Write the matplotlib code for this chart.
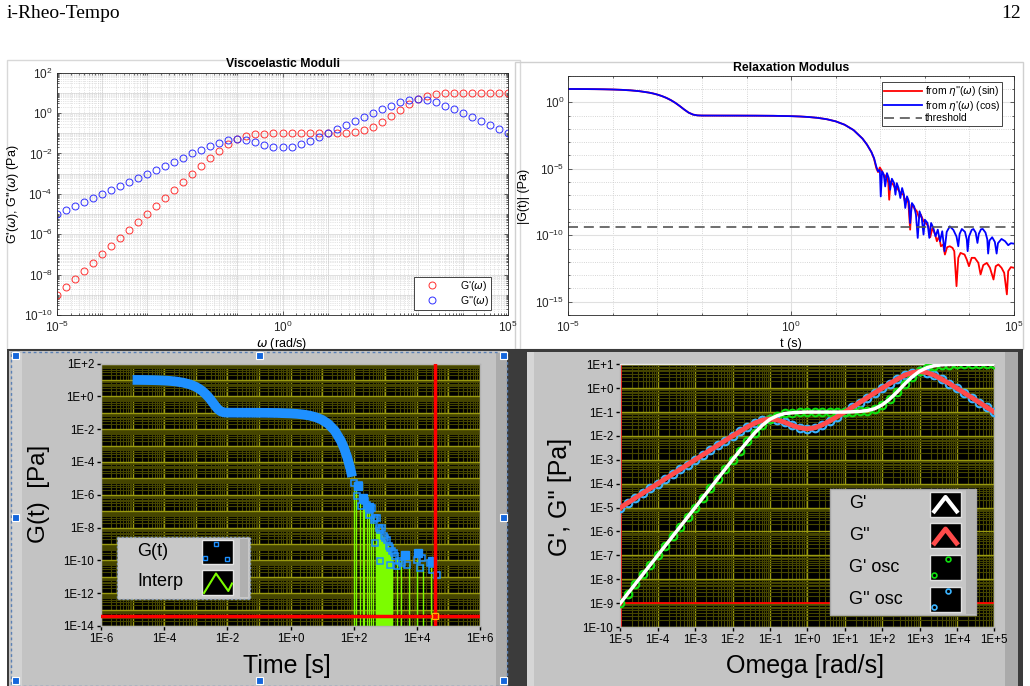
import matplotlib

matplotlib.use("Agg")
import matplotlib.pyplot as plt
import numpy as np
from matplotlib.patches import Rectangle
from matplotlib.ticker import FuncFormatter, LogLocator, NullFormatter, NullLocator

W, H = 1030, 686

# ---- data, all in log10 units ----
LOG_OMEGA = [-5.0, -4.8, -4.6, -4.4, -4.2, -4.0, -3.8, -3.6, -3.4, -3.2,
             -3.0, -2.8, -2.6, -2.4, -2.2, -2.0, -1.8, -1.6, -1.4, -1.2,
             -1.0, -0.8, -0.6, -0.4, -0.2, 0.0, 0.2, 0.4, 0.6, 0.8,
             1.0, 1.2, 1.4, 1.6, 1.8, 2.0, 2.2, 2.4, 2.6, 2.8,
             3.0, 3.2, 3.4, 3.6, 3.8, 4.0, 4.2, 4.4, 4.6, 4.8, 5.0]
LOG_GP = [-9.00, -8.60, -8.20, -7.80, -7.40, -7.00, -6.60, -6.20, -5.80, -5.40,
          -5.00, -4.60, -4.20, -3.80, -3.40, -3.00, -2.61, -2.23, -1.86, -1.55,
          -1.30, -1.15, -1.06, -1.03, -1.01, -1.00, -1.00, -1.00, -1.00, -1.00,
          -1.00, -0.99, -0.97, -0.94, -0.86, -0.70, -0.46, -0.16, 0.17, 0.47,
          0.71, 0.86, 0.94, 0.98, 0.99, 1.00, 1.00, 1.00, 1.00, 1.00, 1.00]
LOG_GPP = [-5.00, -4.80, -4.60, -4.40, -4.20, -4.00, -3.80, -3.60, -3.40, -3.20,
           -3.00, -2.80, -2.60, -2.40, -2.20, -2.00, -1.81, -1.62, -1.46, -1.34,
           -1.29, -1.33, -1.43, -1.56, -1.66, -1.70, -1.66, -1.54, -1.37, -1.19,
           -1.00, -0.80, -0.60, -0.40, -0.20, 0.00, 0.19, 0.37, 0.54, 0.65,
           0.70, 0.65, 0.54, 0.37, 0.19, 0.00, -0.20, -0.40, -0.60, -0.80, -1.00]

# smooth part of G(t)
LOG_T = [-5.0, -4.8, -4.6, -4.4, -4.2, -4.0, -3.8, -3.6, -3.4, -3.2,
         -3.1, -3.0, -2.9, -2.8, -2.7, -2.6, -2.5, -2.4, -2.3, -2.2, -2.1, -2.0,
         -1.6, -1.2, -0.8, -0.4, 0.0, 0.2, 0.4, 0.6, 0.8, 1.0, 1.2, 1.4, 1.6, 1.7, 1.8]
LOG_GT = [1.000, 0.998, 0.993, 0.987, 0.977, 0.961, 0.936, 0.897, 0.833, 0.734,
          0.665, 0.578, 0.468, 0.332, 0.164, -0.040, -0.281, -0.542, -0.778, -0.927, -0.985, -0.998,
          -1.001, -1.003, -1.007, -1.017, -1.043, -1.069, -1.109, -1.173, -1.274, -1.434, -1.688,
          -2.090, -2.729, -3.176, -3.740]

# noisy tails of the two inversions
SIN_T = [1.86, 1.91, 1.95, 1.99, 2.05, 2.10, 2.14, 2.18, 2.20, 2.23, 2.29, 2.33, 2.37, 2.40, 2.46,
         2.52, 2.55, 2.59, 2.63, 2.67, 2.70, 2.76, 2.82, 2.87, 2.91, 2.97, 3.02, 3.08, 3.12, 3.17,
         3.23, 3.27, 3.32, 3.36, 3.41, 3.45, 3.50, 3.56, 3.62, 3.66, 3.71, 3.75, 3.80, 3.89, 3.94,
         3.99, 4.05, 4.12, 4.20, 4.25, 4.31, 4.39, 4.46, 4.54, 4.59, 4.65, 4.72, 4.78, 4.84, 4.87,
         4.93, 5.00]
SIN_G = [-4.25, -4.95, -5.25, -4.90, -5.25, -5.70, -5.45, -6.08, -7.33, -5.95, -6.20, -6.45, -6.33,
         -6.58, -6.83, -6.95, -7.45, -7.20, -7.58, -9.58, -7.70, -7.95, -8.20, -8.70, -8.45, -8.95,
         -9.08, -9.33, -10.15, -9.45, -9.95, -10.45, -10.08, -10.83, -10.70, -11.45, -10.90, -10.83,
         -10.95, -11.20, -13.83, -11.70, -11.33, -11.45, -11.83, -12.33, -11.70, -11.70, -12.08,
         -12.95, -12.25, -12.08, -12.45, -13.33, -12.33, -12.20, -12.45, -12.83, -14.45, -12.70,
         -12.40, -12.45]
COS_T = [1.86, 1.91, 1.95, 1.99, 2.01, 2.04, 2.08, 2.11, 2.15, 2.19, 2.22, 2.26, 2.31, 2.34, 2.37,
         2.41, 2.45, 2.49, 2.53, 2.56, 2.60, 2.64, 2.67, 2.71, 2.76, 2.80, 2.84, 2.88, 2.93, 2.97,
         3.00, 3.06, 3.10, 3.14, 3.19, 3.24, 3.29, 3.34, 3.39, 3.44, 3.49, 3.56, 3.64, 3.71, 3.75,
         3.78, 3.83, 3.90, 3.94, 3.96, 3.99, 4.05, 4.09, 4.14, 4.18, 4.21, 4.26, 4.30, 4.36, 4.40,
         4.42, 4.45, 4.51, 4.57, 4.61, 4.64, 4.72, 4.80, 4.87, 4.93, 4.99]
COS_G = [-4.20, -4.83, -5.20, -5.08, -7.08, -5.20, -5.45, -6.33, -5.33, -5.70, -6.58, -5.75, -6.08,
         -6.95, -6.08, -6.45, -7.20, -6.45, -6.95, -7.95, -7.08, -7.45, -9.08, -7.58, -7.83, -8.45,
         -10.20, -8.20, -8.70, -9.95, -8.83, -9.08, -10.20, -9.08, -9.45, -10.08, -9.58, -10.45,
         -9.70, -11.20, -9.75, -9.33, -9.60, -10.10, -10.83, -9.90, -9.53, -9.75, -10.30, -11.20,
         -10.10, -9.60, -9.53, -9.80, -10.58, -9.90, -9.55, -9.53, -9.80, -10.30, -11.38, -10.40,
         -10.15, -10.50, -11.38, -10.60, -10.28, -10.45, -10.75, -10.60, -10.63]
LOG_THRESHOLD = -9.4

# LabVIEW G(t) panel
BL_EXTRA_T = [1.9, 1.95]
BL_EXTRA_G = [-4.45, -4.90]
SQ_T = [1.995, 2.154, 2.101, 2.228, 2.312, 2.365, 2.418, 2.471, 2.523, 2.576, 2.629, 2.682, 2.735,
        2.787, 2.840, 2.893, 2.946, 2.999, 3.052, 3.104, 3.157, 3.210, 3.263, 3.316, 3.368, 3.421,
        2.682, 2.819, 3.157, 3.527, 3.685, 4.002, 4.108, 4.160, 4.425, 4.477, 4.636]
SQ_G = [-5.28, -5.38, -6.09, -6.70, -6.19, -6.40, -6.60, -7.21, -6.91, -6.80, -7.52, -7.42, -7.42,
        -8.03, -8.13, -8.03, -8.54, -8.64, -8.74, -9.15, -9.25, -9.45, -9.55, -9.76, -10.37, -10.06,
        -8.94, -10.06, -10.27, -10.17, -10.27, -9.96, -10.47, -9.86, -10.17, -10.57, -10.88]
BLOB_T = [2.15, 2.31, 2.50, 3.63, 4.05, 4.48]
BLOB_G = [-5.45, -6.20, -6.75, -9.66, -9.55, -10.06]
INTERP_T = [2.00, 2.08, 2.21, 2.29, 2.34, 2.42, 2.50, 2.55, 2.61, 3.37, 3.51, 3.74, 4.02, 4.18, 4.45]
INTERP_G = [-5.3, -5.6, -6.1, -6.3, -6.4, -6.7, -7.0, -7.1, -7.3, -9.8, -10.0, -10.2, -10.0, -10.2, -10.4]
FILL_T = [2.68, 2.80, 2.95, 3.10, 3.24]
FILL_G = [-7.9, -8.2, -8.6, -9.1, -9.8]
CURSOR_T, CURSOR_G = 4.59, -13.38
OSC_FLOOR = -9.0

plt.rcParams["font.family"] = ["Liberation Sans", "DejaVu Sans"]
fig = plt.figure(figsize=(W / 100, H / 100), dpi=100)


def px_axes(x0, y0, x1, y1, **kw):
    return fig.add_axes([x0 / W, 1 - y1 / H, (x1 - x0) / W, (y1 - y0) / H], **kw)


def p10(v):
    return 10.0 ** np.asarray(v, dtype=float)


bg = px_axes(0, 0, W, H, zorder=-5)
bg.set_xlim(0, W)
bg.set_ylim(H, 0)
bg.axis("off")

bg.text(7, 14, "i-Rheo-Tempo", family="Liberation Serif", fontsize=14, va="center")
bg.text(1021, 14, "12", family="Liberation Serif", fontsize=14, va="center", ha="right")
bg.add_patch(Rectangle((7, 60), 513, 289, fill=False, ec="#d8d8d8", lw=1))
bg.add_patch(Rectangle((515, 62), 508, 287, fill=False, ec="#d0d0d0", lw=1))

# dark backdrop and the two grey LabVIEW panels
bg.add_patch(Rectangle((7, 349), 1016, 337, fc="#3b3b3b", ec="none"))
bg.add_patch(Rectangle((9, 351), 498, 335, fc="#c3c3c3", ec="none"))
bg.add_patch(Rectangle((12, 353), 10, 333, fc="#d2d2d2", ec="none"))
bg.add_patch(Rectangle((496, 353), 11, 333, fc="#ababab", ec="none"))
bg.add_patch(Rectangle((527, 352), 491, 334, fc="#c4c4c4", ec="none"))
bg.add_patch(Rectangle((527, 352), 7, 334, fc="#d6d6d6", ec="none"))
bg.add_patch(Rectangle((1005, 352), 13, 334, fc="#aaaaaa", ec="none"))


def matlab_axes(ax):
    ax.set_xscale("log")
    ax.set_yscale("log")
    ax.tick_params(which="both", direction="in", top=True, right=True, width=0.5,
                   labelsize=8.5, pad=3, colors="#262626")
    ax.tick_params(axis="x", which="both", pad=3.5)
    ax.tick_params(which="major", length=3)
    ax.tick_params(which="minor", length=1.5)
    for s in ax.spines.values():
        s.set_linewidth(0.6)
        s.set_color("#262626")


# ---- top left: viscoelastic moduli ----
ax1 = px_axes(57, 72.7, 508, 315)
matlab_axes(ax1)
w = p10(LOG_OMEGA)
ax1.plot(w, p10(LOG_GP), "o", mfc="none", mec="#ff3030", ms=5, mew=0.7, label="G'($\\omega$)")
ax1.plot(w, p10(LOG_GPP), "o", mfc="none", mec="#3030ff", ms=5, mew=0.7, label="G''($\\omega$)")
ax1.set_xlim(1e-5, 1e5)
ax1.set_ylim(1e-10, 1e2)
ax1.set_xticks([1e-5, 1, 1e5])
ax1.set_yticks([10.0 ** k for k in range(-10, 3, 2)])
ax1.xaxis.set_minor_locator(LogLocator(base=10, subs=np.arange(1, 10), numticks=200))
ax1.yaxis.set_minor_locator(LogLocator(base=10, subs=np.arange(1, 10), numticks=200))
ax1.xaxis.set_minor_formatter(NullFormatter())
ax1.yaxis.set_minor_formatter(NullFormatter())
ax1.grid(which="minor", color="#cccccc", lw=0.5, ls=":")
ax1.grid(which="major", color="#e0e0e0", lw=0.6)
for k in range(-5, 6):
    ax1.axvline(10.0 ** k, color="#e0e0e0", lw=0.6, zorder=0.5)
for k in range(-10, 3):
    ax1.axhline(10.0 ** k, color="#e0e0e0", lw=0.6, zorder=0.5)
ax1.set_axisbelow(True)
leg = ax1.legend(loc="lower right", bbox_to_anchor=(491 / W, 1 - 310 / H),
                 bbox_transform=fig.transFigure, borderaxespad=0, fontsize=7.5,
                 fancybox=False, framealpha=1, edgecolor="#262626", labelspacing=0.1,
                 borderpad=0.2, handlelength=3.0, handletextpad=1.2)
leg.get_frame().set_linewidth(0.6)
bg.text(282.5, 64, "Viscoelastic Moduli", fontsize=8.8, weight="bold", ha="center", va="center")
bg.text(282, 343.5, "$\\omega$ (rad/s)", fontsize=9, ha="center", va="center")
bg.text(13, 194, "G'($\\omega$), G''($\\omega$) (Pa)", fontsize=9, ha="center", va="center",
        rotation=90)

# ---- top right: relaxation modulus ----
ax2 = px_axes(568.3, 75.7, 1014, 315)
matlab_axes(ax2)
t_sin = p10(LOG_T + SIN_T)
g_sin = p10(LOG_GT + SIN_G)
t_cos = p10(LOG_T + COS_T)
g_cos = p10(LOG_GT + COS_G)
ax2.plot(t_sin, g_sin, color="#ff0000", lw=1.3, label="from $\\eta$''($\\omega$) (sin)")
ax2.plot(t_cos, g_cos, color="#0000ff", lw=1.3, label="from $\\eta$'($\\omega$) (cos)")
ax2.axhline(10.0 ** LOG_THRESHOLD, color="#555555", lw=1.2, ls=(0, (6, 3.5)), label="threshold")
ax2.set_xlim(1e-5, 1e5)
ax2.set_ylim(1e-16, 1e2)
ax2.set_xticks([1e-5, 1, 1e5])
ax2.set_yticks([1e-15, 1e-10, 1e-5, 1])
ax2.xaxis.set_minor_locator(LogLocator(base=10, subs=(1.0,), numticks=200))
ax2.yaxis.set_minor_locator(LogLocator(base=10, subs=(1.0,), numticks=200))
ax2.xaxis.set_minor_formatter(NullFormatter())
ax2.yaxis.set_minor_formatter(NullFormatter())
ax2.grid(which="minor", color="#c8c8c8", lw=0.6, ls=":")
ax2.grid(which="major", color="#e0e0e0", lw=0.8)
ax2.set_axisbelow(True)
leg = ax2.legend(loc="upper right", bbox_to_anchor=(1002 / W, 1 - 82.3 / H),
                 bbox_transform=fig.transFigure, borderaxespad=0, fontsize=7.5,
                 fancybox=False, framealpha=1, edgecolor="#262626", labelspacing=0.05,
                 borderpad=0.2, handlelength=3.6, handletextpad=0.3)
leg.get_frame().set_linewidth(0.6)
bg.text(791, 67.7, "Relaxation Modulus", fontsize=8.8, weight="bold", ha="center", va="center")
bg.text(791, 343.5, "t (s)", fontsize=9, ha="center", va="center")
bg.text(524.5, 196, "|G(t)| (Pa)", fontsize=9, ha="center", va="center", rotation=90)

# ---- LabVIEW style panels ----
GRID_MAJOR = "#9a9a10"
GRID_MINOR = "#454500"
lv_fmt = FuncFormatter(lambda v, p: f"1E{int(round(np.log10(v))):+d}")


def labview_axes(ax, xdec, ydec, xstep, ystep):
    ax.set_facecolor("black")
    ax.set_xscale("log")
    ax.set_yscale("log")
    ax.set_xlim(10.0 ** xdec[0], 10.0 ** xdec[-1])
    ax.set_ylim(10.0 ** ydec[0], 10.0 ** ydec[-1])
    for k in xdec:
        ax.axvline(10.0 ** k, color=GRID_MAJOR, lw=1.0, zorder=1)
        if k != xdec[-1]:
            for s in range(2, 10):
                ax.axvline(s * 10.0 ** k, color=GRID_MINOR, lw=0.8, zorder=1)
    for k in ydec:
        ax.axhline(10.0 ** k, color=GRID_MAJOR, lw=1.0, zorder=1)
        if k != ydec[-1]:
            for s in range(2, 10):
                ax.axhline(s * 10.0 ** k, color=GRID_MINOR, lw=0.8, zorder=1)
    ax.set_xticks([10.0 ** k for k in xdec[::xstep]])
    ax.set_yticks([10.0 ** k for k in ydec[::ystep]])
    ax.xaxis.set_minor_locator(NullLocator())
    ax.yaxis.set_minor_locator(NullLocator())
    ax.xaxis.set_major_formatter(lv_fmt)
    ax.yaxis.set_major_formatter(lv_fmt)
    ax.tick_params(direction="out", length=3, width=1, labelsize=8.3, pad=2, colors="black")
    for s in ax.spines.values():
        s.set_color("#b4b4b4")
        s.set_linewidth(1)


ax3 = px_axes(101, 363.5, 480, 626)
labview_axes(ax3, list(range(-6, 7)), list(range(-14, 3)), 2, 2)
floor = 1e-15
ax3.vlines(p10(INTERP_T), floor, p10(INTERP_G), color="#7cfc00", lw=1.0, zorder=2)
ax3.fill_between(p10(FILL_T), floor, p10(FILL_G), color="#7cfc00", lw=0, zorder=2)
ax3.plot(p10(LOG_T + BL_EXTRA_T), p10(LOG_GT + BL_EXTRA_G), color="#1e90ff", lw=7,
         solid_capstyle="butt", zorder=3)
ax3.plot(p10(SQ_T), p10(SQ_G), "s", mfc="none", mec="#1e90ff", ms=4.2, mew=1.1, zorder=4)
ax3.plot(p10(BLOB_T), p10(BLOB_G), "s", color="#1e90ff", ms=5.5, zorder=4)
ax3.axhline(10.0 ** CURSOR_G, color="#ff0000", lw=2.5, zorder=5)
ax3.axvline(10.0 ** CURSOR_T, color="#ff0000", lw=2.5, zorder=5)
ax3.plot([10.0 ** CURSOR_T], [10.0 ** CURSOR_G], "s", mfc="none", mec="#ffb000", ms=5, mew=1,
         zorder=6)
ax3.set_ylim(1e-14, 1e2)

ax4 = px_axes(620.3, 364.3, 994.3, 627)
labview_axes(ax4, list(range(-5, 6)), list(range(-10, 2)), 1, 1)
ax4.plot(w, p10(LOG_GPP), "o", mfc="none", mec="#3cb4ff", ms=5.5, mew=1.5, zorder=3)
ax4.plot(w, p10(LOG_GP), "o", mfc="none", mec="#10e010", ms=5.5, mew=1.5, zorder=3)
ax4.plot(w, p10(LOG_GPP), color="#ff4a4a", lw=3.5, zorder=4)
ax4.plot(w, p10(LOG_GP), color="white", lw=2.5, zorder=5)
ax4.axhline(10.0 ** OSC_FLOOR, color="#ff0000", lw=1.3, zorder=2.5)
ax4.axvline(1e-5, color="#ff0000", lw=2, zorder=2.5)
ax4.spines["top"].set_color("#e8e8e8")

bg.text(287, 673, "Time [s]", fontsize=18, ha="center", va="baseline")
bg.text(39, 494, "G(t)  [Pa]", fontsize=17.5, ha="center", va="center", rotation=90)
bg.text(805, 673, "Omega [rad/s]", fontsize=18, ha="center", va="baseline")
bg.text(560, 497, "G', G'' [Pa]", fontsize=18, ha="center", va="center", rotation=90)

# ---- overlay: LabVIEW legends and selection handles ----
ov = px_axes(0, 0, W, H, zorder=10)
ov.set_xlim(0, W)
ov.set_ylim(H, 0)
ov.axis("off")

ov.add_patch(Rectangle((11, 352), 496, 334, fill=False, ec="#5a80b4", ls=(0, (2, 2)), lw=1))
for hx, hy in [(15, 355), (259, 355), (503, 355), (15, 517), (503, 517),
               (15, 680), (259, 680), (503, 680)]:
    ov.add_patch(Rectangle((hx - 3.5, hy - 3.5), 7, 7, fc="#1466dc", ec="white", lw=0.8))

ov.add_patch(Rectangle((117, 537), 133, 62, fc="#c8c8c8", ec="#8ca0b8", ls=(0, (1.5, 1.5)), lw=1))
ov.add_patch(Rectangle((240, 539), 8, 58, fc="#b0b0b0", ec="none"))
ov.text(137, 552, "G(t)", fontsize=13, va="center")
ov.text(137, 582, "Interp", fontsize=13, va="center")
ov.add_patch(Rectangle((202, 540), 31, 24, fc="black", ec="#e6e6e6", lw=1))
ov.add_patch(Rectangle((202, 570), 31, 25, fc="black", ec="#e6e6e6", lw=1))
ov.plot([216, 205, 227], [543.5, 558, 559], "s", mfc="none", mec="#1e90ff", ms=3, mew=1)
ov.plot([204, 216, 228.3, 232], [593, 573.5, 591, 583.5], color="#7cfc00", lw=1.5)

ov.add_patch(Rectangle((830, 489), 146, 126, fc="#c6c6c6", ec="#a8a8a8", lw=1))
ov.add_patch(Rectangle((966, 490), 10, 124, fc="#b2b2b2", ec="none"))
for ty, lab in [(503, "G'"), (535, "G''"), (567, "G' osc"), (599, "G'' osc")]:
    ov.text(849, ty, lab, fontsize=13, va="center")
for sy in [491.7, 523.3, 555, 586.7]:
    ov.add_patch(Rectangle((930, sy), 31, 25, fc="black", ec="#e0e0e0", lw=1))
ov.plot([933, 945.5, 958], [513, 497, 513], color="white", lw=3, solid_capstyle="butt")
ov.plot([933, 945.5, 958], [545, 529, 545], color="#ff4a4a", lw=3.5, solid_capstyle="butt")
ov.plot([948, 933.5], [559, 575], "o", mfc="none", mec="#10e010", ms=3.5, mew=1.2)
ov.plot([948, 933.5], [591, 607], "o", mfc="none", mec="#3cb4ff", ms=3.5, mew=1.2)

fig.savefig("out.png", dpi=100)
